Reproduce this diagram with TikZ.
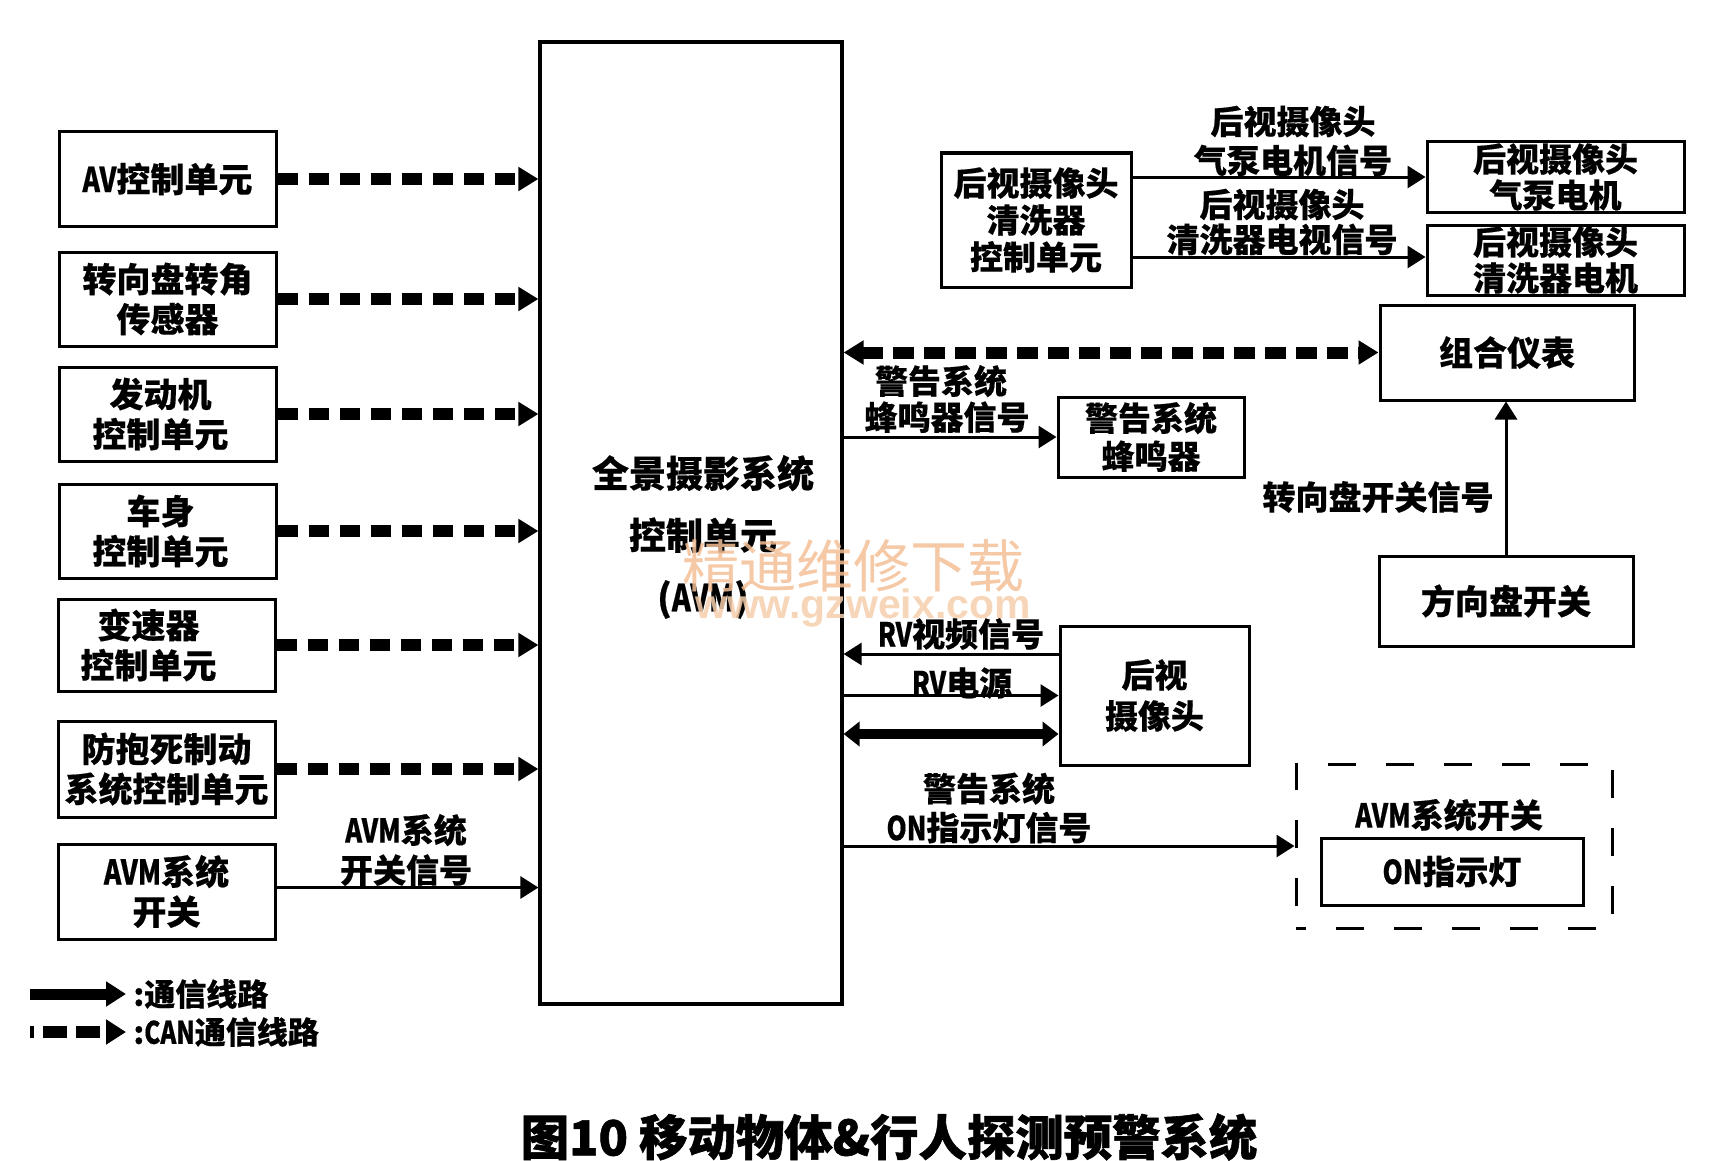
\documentclass[tikz,border=0pt]{standalone}
\usepackage{fontspec}
\setmainfont{Noto Sans CJK SC}[FakeBold=0.4]
\newfontfamily\nar[FakeStretch=0.78,FakeBold=0.4]{Noto Sans CJK SC}
\newfontfamily\capfont[FakeBold=1.2]{Noto Sans CJK SC}
\newfontfamily\wmcjk{Noto Sans CJK SC}
\newfontfamily\wmlat{Liberation Sans}
\newcommand{\lat}[1]{{\nar #1}}
\usetikzlibrary{arrows.meta}
\definecolor{wmA}{RGB}{243,190,150}
\definecolor{wmB}{RGB}{246,206,172}
\tikzset{
  bx/.style={draw, line width=1.5pt, inner sep=0pt, align=center,
    font=\fontsize{17}{20}\selectfont\bfseries},
  lbl/.style={inner sep=0pt, align=center, font=\fontsize{16.5}{19}\selectfont\bfseries},
  canln/.style={line width=6pt, dash pattern=on 10pt off 5.5pt,
    -{Triangle[length=10pt,width=11.5pt]}},
  canbi/.style={line width=6pt, dash pattern=on 10.5pt off 5pt,
    {Triangle[length=10pt,width=11.5pt]}-{Triangle[length=10pt,width=11.5pt]}},
  sig/.style={line width=1.5pt, -{Triangle[length=9pt,width=11pt]}},
  thickbi/.style={line width=5pt,
    {Triangle[length=8pt,width=12pt]}-{Triangle[length=8pt,width=12pt]}},
}
\begin{document}
\begin{tikzpicture}[x=0.5pt,y=-0.5pt]
\useasboundingbox (0,0) rectangle (1713,1161);

% main unit
\node[draw, line width=1.6pt, minimum width=151pt, minimum height=481pt, inner sep=0pt] (avm) at (691,523) {};
\node[inner sep=0pt, align=center, font=\fontsize{18.5}{31}\selectfont\bfseries] (avmt) at (703,537)
  {全景摄影系统\\控制单元\\(\lat{AVM})};

% left column
\node[bx, minimum width=108.5pt, minimum height=47pt] (av)   at (167.5,179) {\lat{AV}控制单元};
\node[bx, minimum width=108.5pt, minimum height=47pt] (sw)   at (167.5,299) {转向盘转角\\传感器};
\node[bx, minimum width=108.5pt, minimum height=47pt] (eng)  at (167.5,414) {\hspace*{-7pt}发动机\\\hspace*{-7pt}控制单元};
\node[bx, minimum width=108.5pt, minimum height=47pt] (body) at (167.5,531) {\hspace*{-7pt}车身\\\hspace*{-7pt}控制单元};
\node[bx, minimum width=108.5pt, minimum height=46pt] (tm)   at (166.5,645) {\hspace*{-18pt}变速器\\\hspace*{-18pt}控制单元};
\node[bx, minimum width=108.5pt, minimum height=48pt] (abs)  at (166.5,769) {防抱死制动\\系统控制单元};
\node[bx, minimum width=108.5pt, minimum height=47.5pt] (avms) at (166.5,891.5) {\lat{AVM}系统\\开关};

\foreach \n in {av,sw,eng,body,tm,abs}
  \draw[canln] (\n.east) -- (\n.east -| avm.west);
\draw[sig] ([yshift=2pt]avms.east) -- ([yshift=2pt]avms.east -| avm.west);
\node[lbl, font=\fontsize{16.5}{20}\selectfont\bfseries] (l8) at (406,850) {\lat{AVM}系统\\开关信号};

% right side
\node[bx, minimum width=95pt, minimum height=67pt, font=\fontsize{16.5}{18.5}\selectfont\bfseries] (wc) at (1036,220) {后视摄像头\\清洗器\\控制单元};
\node[bx, minimum width=128.5pt, minimum height=35pt, font=\fontsize{16.5}{18}\selectfont\bfseries] (pm) at (1555.5,177) {后视摄像头\\气泵电机};
\node[bx, minimum width=128.5pt, minimum height=35pt, font=\fontsize{16.5}{18}\selectfont\bfseries] (wm) at (1555.5,260) {后视摄像头\\清洗器电机};
\draw[sig] (wc.east |- pm.west) -- (pm.west);
\draw[sig] ([yshift=1.5pt]wc.east |- wm.west) -- ([yshift=1.5pt]wm.west);
\node[lbl, font=\fontsize{16.5}{19.5}\selectfont\bfseries] (l1) at (1293,141) {后视摄像头\\气泵电机信号};
\node[lbl, font=\fontsize{16.5}{17.5}\selectfont\bfseries] (l2) at (1282,222) {后视摄像头\\清洗器电视信号};

\node[bx, minimum width=127pt, minimum height=47.5pt] (clu) at (1507,352.5) {组合仪表};
\draw[canbi] (avm.east |- clu.west) -- (clu.west);

\node[bx, minimum width=93pt, minimum height=40pt, font=\fontsize{16.5}{19}\selectfont\bfseries] (buz) at (1151,437) {警告系统\\蜂鸣器};
\draw[sig] (avm.east |- buz.west) -- (buz.west);
\node[lbl, font=\fontsize{16.5}{18}\selectfont\bfseries] (l3) at (947,399) {\hspace*{-6pt}警告系统\\蜂鸣器信号};

\node[bx, minimum width=127pt, minimum height=45pt] (dsw) at (1506,601) {方向盘开关};
\draw[sig] (dsw.north) -- (dsw.north |- clu.south);
\node[lbl] (l4) at (1378,497) {转向盘开关信号};

\node[bx, minimum width=94.5pt, minimum height=69.5pt, font=\fontsize{16.5}{20.5}\selectfont\bfseries] (cam) at (1154.5,695.5) {后视\\摄像头};
\coordinate (rv1) at ([yshift=20.75pt]cam.west);
\coordinate (rv3) at ([yshift=-19.25pt]cam.west);
\draw[sig] (rv1) -- (rv1 -| avm.east);
\draw[sig] (avm.east |- cam.west) -- (cam.west);
\draw[thickbi] (rv3 -| avm.east) -- (rv3);
\node[lbl] (l5) at (961,634) {\lat{RV}视频信号};
\node[lbl] (l6) at (962,683) {\lat{RV}电源};

\node[draw, line width=1.5pt, dash pattern=on 14pt off 15pt, dash phase=9pt, minimum width=158pt, minimum height=82pt, inner sep=0pt] (dbox) at (1454,846) {};
\node[lbl] (dlbl) at (1449,815) {\lat{AVM}系统开关};
\node[bx, minimum width=131pt, minimum height=33.5pt, font=\fontsize{16.5}{19}\selectfont\bfseries] (onl) at (1452,871.5) {\lat{ON}指示灯};
\draw[sig] (avm.east |- dbox.west) -- (dbox.west);
\node[lbl, font=\fontsize{16.5}{19.5}\selectfont\bfseries] (l7) at (989,808) {警告系统\\\lat{ON}指示灯信号};

% legend
\coordinate (lga) at (30,994);
\coordinate (lgb) at (126,994);
\coordinate (lgc) at (30,1032);
\coordinate (lgd) at (126,1032);
\draw[line width=5.5pt, -{Triangle[length=10pt,width=12pt]}] (lga) -- (lgb);
\draw[line width=6pt, dash pattern=on 12pt off 4.5pt, dash phase=10pt, -{Triangle[length=10pt,width=12pt]}] (lgc) -- (lgd);
\node[anchor=west, inner sep=0pt, font=\fontsize{15.5}{18}\selectfont\bfseries] (lgt1) at (133,994) {:通信线路};
\node[anchor=west, inner sep=0pt, font=\fontsize{15.5}{18}\selectfont\bfseries] (lgt2) at (133,1032) {:\lat{CAN}通信线路};

% caption
\node[inner sep=0pt, font=\capfont\fontsize{24.2}{26}\selectfont\bfseries] (cap) at (889,1137) {图10 移动物体\&行人探测预警系统};

% watermark
\node[inner sep=0pt, text=wmA, opacity=0.85, font=\wmcjk\fontsize{28.5}{30}\selectfont] (wm1) at (853,566) {精通维修下载};
\node[inner sep=0pt, text=wmB, opacity=0.85, font=\wmlat\fontsize{20.5}{22}\selectfont\bfseries] (wm2) at (863,608) {www.gzweix.com};
\end{tikzpicture}
\end{document}
